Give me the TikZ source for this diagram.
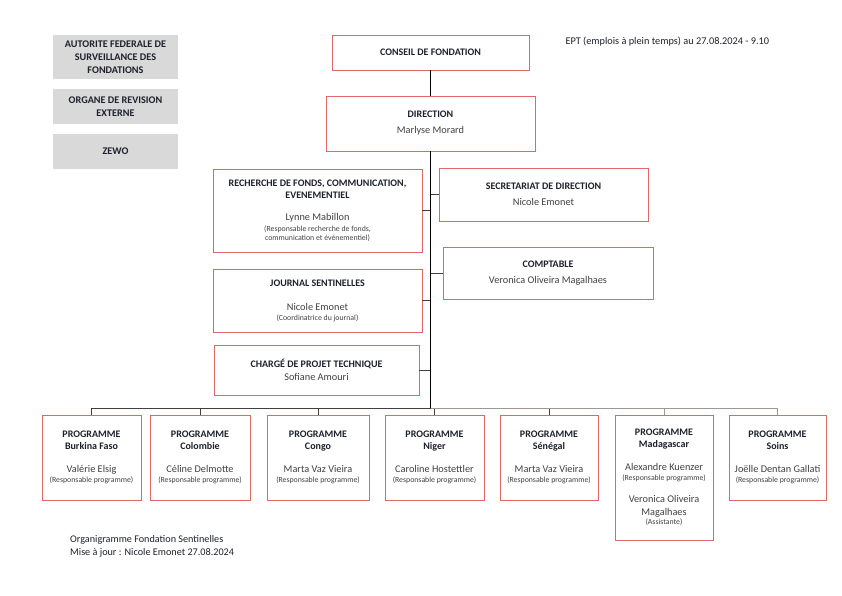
\documentclass[tikz,border=0pt]{standalone}
\usepackage{fontspec}
\setmainfont{Carlito}
\usetikzlibrary{positioning}

\definecolor{boxred}{RGB}{222,104,104}
\definecolor{titletext}{RGB}{30,32,44}
\definecolor{nametext}{RGB}{64,64,64}
\definecolor{greyfill}{RGB}{217,217,217}

\newcommand{\ttl}[1]{{\bfseries\fontsize{10}{12}\selectfont\color{titletext}#1}}
\newcommand{\who}[1]{{\fontsize{10.3}{12}\selectfont\color{nametext}#1}}
\newcommand{\role}[1]{{\fontsize{7.8}{9}\selectfont\color{nametext}#1}}

\begin{document}
\begin{tikzpicture}[x=1pt,y=-1pt]
    \tikzset{block/.style= {draw=boxred, line width=0.6pt, rectangle
    , inner sep=2pt
    , align=center
    , font=\fontsize{10}{12}\selectfont
      }
    , greybox/.style= {fill=greyfill, rectangle
    , minimum width=125pt
    , align=center
    , font=\bfseries\fontsize{10.2}{13}\selectfont
    , text=titletext
      }
    , trunk/.style= {line width=1.6pt, black}
    , branch/.style= {line width=0.8pt, black!75}
    , lightbranch/.style= {line width=0.8pt, black!40}
    }
\useasboundingbox (0,0) rectangle (842,595);

% supervisory bodies
\node [greybox, minimum height=44pt] (afs) at (115.5,57) {AUTORITE FEDERALE DE\\SURVEILLANCE DES\\FONDATIONS};
\node [greybox, minimum height=35pt] (revision) at (115.5,106.5) {ORGANE DE REVISION\\EXTERNE};
\node [greybox, minimum height=35pt] (zewo) at (115.5,151.5) {ZEWO};

\node [anchor=west, font=\fontsize{10.3}{12}\selectfont, text=titletext] (ept) at (562,42) {EPT (emplois à plein temps) au 27.08.2024 - 9.10};

% top of the chart
\node [block, minimum width=197pt, minimum height=35pt] (conseil) at (430.5,52.5) {\ttl{CONSEIL DE FONDATION}};
\node [block, minimum width=209pt, minimum height=55pt] (direction) at (430.5,123.5) {\ttl{DIRECTION}\\[4pt]\who{Marlyse Morard}};

% staff around the direction
\node [block, minimum width=209pt, minimum height=83pt] (recherche) at (317.5,210.5)
  {\ttl{RECHERCHE DE FONDS, COMMUNICATION,}\\\ttl{EVENEMENTIEL}\\[10pt]\who{Lynne Mabillon}\\[-1pt]\role{(Responsable recherche de fonds,}\\[-3pt]\role{communication et événementiel)}};
\node [block, minimum width=209pt, minimum height=63pt] (journal) at (317.5,300.5)
  {\ttl{JOURNAL SENTINELLES}\\[12pt]\who{Nicole Emonet}\\[-2pt]\role{(Coordinatrice du journal)}};
\node [block, minimum width=205pt, minimum height=50pt] (charge) at (316.5,370)
  {\ttl{CHARGÉ DE PROJET TECHNIQUE}\\[1pt]\who{Sofiane Amouri}};
\node [block, minimum width=209pt, minimum height=53pt] (secretariat) at (543.5,194.5)
  {\ttl{SECRETARIAT DE DIRECTION}\\[4pt]\who{Nicole Emonet}};
\node [block, minimum width=210pt, minimum height=52pt] (comptable) at (548,273)
  {\ttl{COMPTABLE}\\[4pt]\who{Veronica Oliveira Magalhaes}};

% programmes
\node [block, minimum width=99pt, minimum height=85pt] (burkina) at (91.5,457.5)
  {\ttl{PROGRAMME}\\\ttl{Burkina Faso}\\[11pt]\who{Valérie Elsig}\\[-2pt]\role{(Responsable programme)}};
\node [block, minimum width=100pt, minimum height=85pt] (colombie) at (200,457.5)
  {\ttl{PROGRAMME}\\\ttl{Colombie}\\[11pt]\who{Céline Delmotte}\\[-2pt]\role{(Responsable programme)}};
\node [block, minimum width=102pt, minimum height=85pt] (congo) at (318,457.5)
  {\ttl{PROGRAMME}\\\ttl{Congo}\\[11pt]\who{Marta Vaz Vieira}\\[-2pt]\role{(Responsable programme)}};
\node [block, minimum width=99pt, minimum height=85pt] (niger) at (434.5,457.5)
  {\ttl{PROGRAMME}\\\ttl{Niger}\\[11pt]\who{Caroline Hostettler}\\[-2pt]\role{(Responsable programme)}};
\node [block, minimum width=98pt, minimum height=85pt] (senegal) at (549,457.5)
  {\ttl{PROGRAMME}\\\ttl{Sénégal}\\[11pt]\who{Marta Vaz Vieira}\\[-2pt]\role{(Responsable programme)}};
\node [block, minimum width=98pt, minimum height=125pt] (madagascar) at (664,477.5)
  {\ttl{PROGRAMME}\\\ttl{Madagascar}\\[11pt]\who{Alexandre Kuenzer}\\[-2pt]\role{(Responsable programme)}\\[10pt]\who{Veronica Oliveira}\\[1pt]\who{Magalhaes}\\[-3pt]\role{(Assistante)}};
\node [block, minimum width=97pt, minimum height=85pt] (soins) at (777.5,457.5)
  {\ttl{PROGRAMME}\\\ttl{Soins}\\[11pt]\who{Joëlle Dentan Gallati}\\[-2pt]\role{(Responsable programme)}};

\node [anchor=north west, align=left, font=\fontsize{10.2}{13}\selectfont, text=titletext, inner sep=0pt] (footer) at (70,535)
  {Organigramme Fondation Sentinelles\\Mise à jour : Nicole Emonet 27.08.2024};

\coordinate (bus) at (430.5,408);

% connectors
 \path[draw, branch]
  (recherche.east) -- (recherche -| direction)
  (journal.east) -- (journal -| direction)
  (charge.east) -- (charge -| direction)
  (secretariat.west) -- (secretariat -| direction)
  (comptable.west) -- (comptable -| direction);
\foreach \prog in {burkina,colombie,congo,niger,senegal}
  \draw [branch] (\prog.north) |- (bus);
\foreach \prog in {madagascar,soins}
  \draw [lightbranch] (\prog.north) |- (bus);
 \path[draw, trunk]
  (conseil) -- (direction) -- (bus);
\end{tikzpicture}
\end{document}
